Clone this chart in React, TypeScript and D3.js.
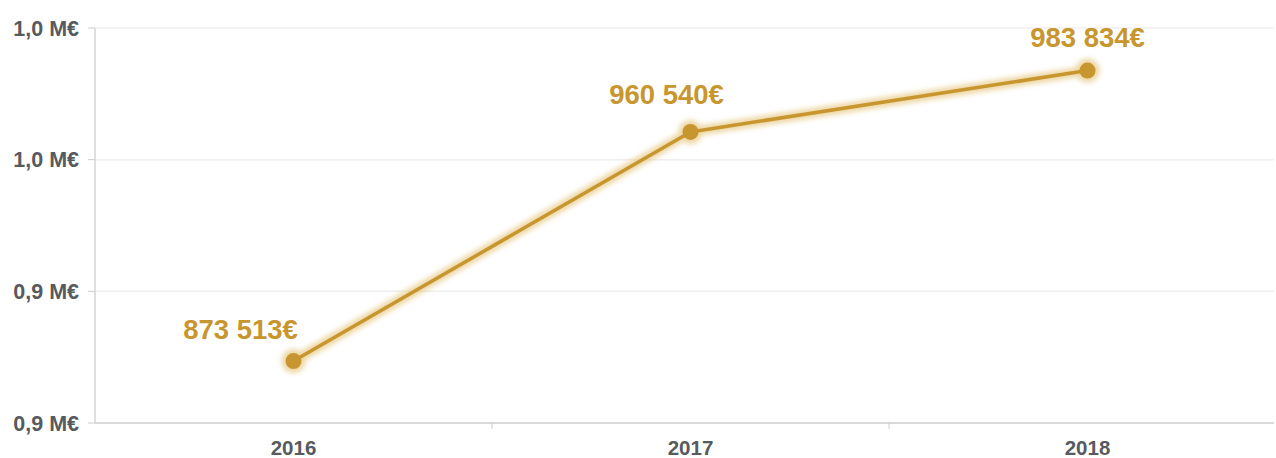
import React from "react";
import * as d3 from "d3";

const years = ["2016", "2017", "2018"];
const values = [873513, 960540, 983834];
const yTicks = [850000, 900000, 950000, 1000000];
const labelDx = [-53, -24, 0];
const labelDy = [-22, -28, -24];

const W = 1276;
const H = 458;

export default function App() {
  const x = d3.scaleBand<string>().domain(years).range([95, 1286]).paddingInner(0).paddingOuter(0);
  const y = d3.scaleLinear().domain([850000, 1000000]).range([423, 28]);
  const cx = (d: string) => (x(d) as number) + x.bandwidth() / 2;
  const fmtTick = (v: number) => (Math.round(v / 1e5) / 10).toFixed(1).replace(".", ",") + " M€";
  const fmtVal = (v: number) => d3.format(",")(v).replace(/,/g, " ") + "€";
  const line = d3.line<number>().x((_, i) => cx(years[i])).y((v) => y(v));
  const path = line(values) || "";
  const gold = "#c8962f";
  const font = "'Liberation Sans', Arial, sans-serif";
  return (
    <svg width={W} height={H} style={{ position: "absolute", left: 0, top: 0, background: "#fff" }}>
      <defs>
        <filter id="glow" x="-20%" y="-20%" width="140%" height="140%">
          <feGaussianBlur stdDeviation="2.5" />
        </filter>
      </defs>
      {yTicks.map((t) => (
        <g key={t}>
          {t !== 850000 && <line x1={95} x2={1274} y1={y(t)} y2={y(t)} stroke="#f0eeee" strokeWidth={1.5} />}
          <line x1={88} x2={95} y1={y(t)} y2={y(t)} stroke="#cccccc" strokeWidth={1} />
          <text x={79} y={y(t)} dy="0.35em" textAnchor="end" fontFamily={font} fontWeight="bold" fontSize={21.5} fill="#575a5e">
            {fmtTick(t)}
          </text>
        </g>
      ))}
      <line x1={95} x2={95} y1={28} y2={423} stroke="#d4d4d4" strokeWidth={1.5} />
      <line x1={95} x2={1274} y1={423} y2={423} stroke="#cccccc" strokeWidth={1.5} />
      {years.slice(1).map((d) => (
        <line key={d} x1={x(d) as number} x2={x(d) as number} y1={423} y2={429} stroke="#cccccc" strokeWidth={1} />
      ))}
      {years.map((d) => (
        <text key={d} x={cx(d)} y={455} textAnchor="middle" fontFamily={font} fontWeight="bold" fontSize={20.5} fill="#575a5e">
          {d}
        </text>
      ))}
      <g filter="url(#glow)" opacity={0.6}>
        <path d={path} fill="none" stroke="#e2bd6a" strokeWidth={10} strokeLinejoin="round" strokeLinecap="round" />
        {values.map((v, i) => (
          <circle key={i} cx={cx(years[i])} cy={y(v)} r={12} fill="#e2bd6a" />
        ))}
      </g>
      <path d={path} fill="none" stroke={gold} strokeWidth={3.5} strokeLinejoin="round" />
      {values.map((v, i) => (
        <circle key={i} cx={cx(years[i])} cy={y(v)} r={8} fill={gold} />
      ))}
      {values.map((v, i) => (
        <text key={i} x={cx(years[i]) + labelDx[i]} y={y(v) + labelDy[i]} textAnchor="middle" fontFamily={font} fontWeight="bold" fontSize={27.5} fill={gold}>
          {fmtVal(v)}
        </text>
      ))}
    </svg>
  );
}
